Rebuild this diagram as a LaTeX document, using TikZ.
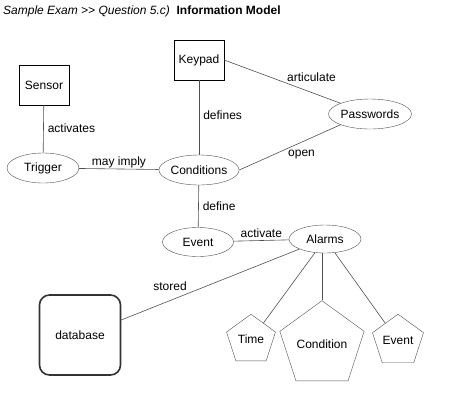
\documentclass[tikz,border=0pt]{standalone}
\usepackage{fontspec}
\setmainfont{Liberation Sans}
\usetikzlibrary{shapes.geometric}
\definecolor{Edge}{HTML}{505050}
\definecolor{Store}{HTML}{333333}

\begin{document}
\begin{tikzpicture}[x=1pt,y=-1pt,
box/.style={draw=black,minimum width=50pt,minimum height=40pt,font=\fontsize{12}{14}\selectfont},
ent/.style={draw=Edge,ellipse,inner sep=0pt,minimum width=72pt,minimum height=30pt,font=\fontsize{12}{14}\selectfont},
attr/.style={draw=Edge,regular polygon,regular polygon sides=5,inner sep=0pt,font=\fontsize{12}{14}\selectfont},
store/.style={draw=Store,line width=1.6pt,rounded corners=10pt,minimum width=81pt,minimum height=80pt,font=\fontsize{12}{14}\selectfont},
rel/.style={draw=Edge,line width=0.6pt},
lbl/.style={inner sep=1pt,font=\fontsize{12}{14}\selectfont}]
\useasboundingbox (0,0) rectangle (450,400);
\node[anchor=base west,inner sep=0pt,font=\fontsize{12}{14}\selectfont] (title) at (3,14.5)
  {\textit{Sample Exam >{}> Question 5.c)}\ \ \textbf{Information Model}};
\node[box] (keypad) at (199,60) {Keypad};
\node[box] (sensor) at (44,85) {Sensor};
\node[ent] (trigger) at (43,168) {Trigger};
\node[ent] (conditions) at (199,170) {Conditions};
\node[ent,minimum width=71pt] (passwords) at (370,114) {Passwords};
\node[ent,minimum width=71pt,minimum height=29pt] (event) at (198,242) {Event};
\node[ent,minimum height=28pt] (alarms) at (325,239) {Alarms};
\node[store] (database) at (80,335) {database};
\node[attr,minimum size=51.5pt] (time) at (251,340) {\raisebox{2pt}{Time}};
\node[attr,minimum size=73.6pt] (condition) at (322,345) {\raisebox{2pt}{Condition}};
\node[attr,minimum size=52.6pt] (eventattr) at (398,341) {\raisebox{2pt}{Event}};
% relations
\draw[rel] (sensor)--(trigger) node[lbl,pos=0.48,right=3pt] {activates};
\draw[rel] (keypad)--(conditions) node[lbl,pos=0.47,right=3pt] {defines};
\draw[rel] (keypad.east)--(passwords.north west) node[lbl,pos=0.53,anchor=south west] {articulate};
\draw[rel] (passwords.south west)--(conditions.east) node[lbl,pos=0.53,anchor=north west] {open};
\draw[rel] (trigger)--(conditions) node[lbl,midway,above] {may imply};
\draw[rel] (conditions)--(event) node[lbl,midway,right=3pt] {define};
\draw[rel] (event)--(alarms) node[lbl,midway,above=2pt] {activate};
\draw[rel] (alarms.south west)--(database.20) node[lbl,pos=0.62,anchor=south east,inner sep=2pt] {stored};
\draw[rel] (alarms)--(time);
\draw[rel] (alarms.south -| condition.north)--(condition.north);
\draw[rel] (alarms)--(eventattr);
\end{tikzpicture}
\end{document}
